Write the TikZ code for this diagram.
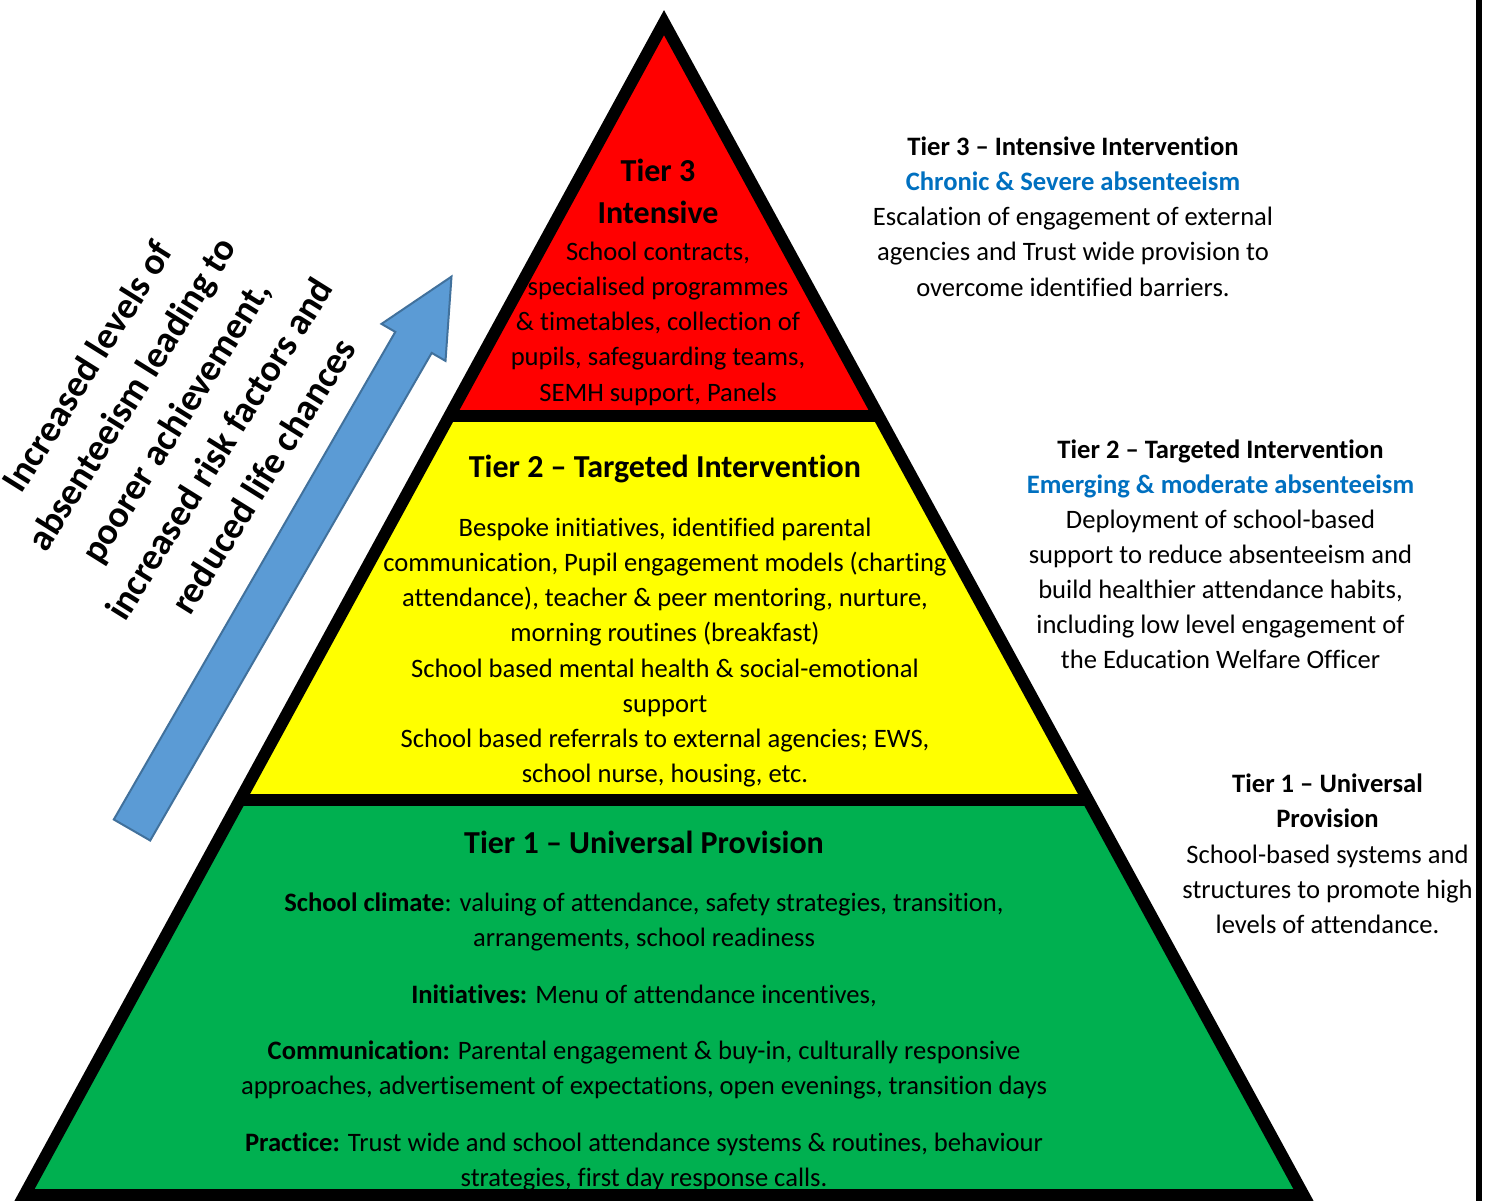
\documentclass[tikz,border=0pt]{standalone}
\usepackage{fontspec}
\setmainfont{Carlito}[Ligatures=NoCommon]
\definecolor{tred}{HTML}{FF0000}
\definecolor{tyellow}{HTML}{FFFF00}
\definecolor{tgreen}{HTML}{00B050}
\definecolor{tblue}{HTML}{0070C0}
\definecolor{afill}{HTML}{5B9BD5}
\definecolor{aline}{HTML}{41719C}
\begin{document}
\begin{tikzpicture}[x=1pt,y=-1pt,
  body/.style={font=\fontsize{26.6}{32}\selectfont, inner sep=0pt, anchor=base},
  hd/.style={font=\fontsize{26.6}{32}\selectfont\bfseries, inner sep=0pt, anchor=base},
  blu/.style={hd, text=tblue},
  ttl/.style={font=\fontsize{32}{38}\selectfont\bfseries, inner sep=0pt, anchor=base},
  rot/.style={font=\fontsize{37.5}{45}\selectfont\bfseries, inner sep=0pt, anchor=base, rotate=58},
  band/.style={line width=12pt, draw=black},
  ]
\useasboundingbox (0,0) rectangle (1490,1201);
\fill[white] (0,0) rectangle (1490,1201);

% pyramid geometry
\coordinate (A) at (664,22.6);
\coordinate (BL) at (24.5,1195);
\coordinate (BR) at (1303.5,1195);
\coordinate (L1) at (449.7,415.5);
\coordinate (R1) at (878.3,415.5);
\coordinate (L2) at (239.9,800);
\coordinate (R2) at (1088.1,800);

\fill[tred] (A) -- (L1) -- (R1) -- cycle;
\fill[tyellow] (L1) -- (L2) -- (R2) -- (R1) -- cycle;
\fill[tgreen] (L2) -- (BL) -- (BR) -- (R2) -- cycle;
\draw[band] (L1) -- (R1);
\draw[band] (L2) -- (R2);
\draw[band, line join=miter] (A) -- (BL) -- (BR) -- cycle;

% right border line
\draw[line width=6pt] (1479,0) -- (1479,1201);

% blue arrow
\draw[fill=afill, draw=aline, line width=2pt, line join=miter]
  (113.8,819.5) -- (395.3,331.9) -- (381.5,323.9) -- (451.5,276.6)
  -- (445.5,360.9) -- (431.7,352.9) -- (150.2,840.5) -- cycle;

% rotated text
\begin{scope}[shift={(186,428)}, rotate=58]
\foreach \tl [count=\i from -2] in {{Increased levels of},{absenteeism leading to},{poorer achievement,},{increased risk factors and},{reduced life chances}}
  \node[rot] (r\i) at (0,\i*51.8) {\tl};
\end{scope}

\begin{scope}[shift={(0,1.5)}]
% Tier 3 inside pyramid
\node[ttl] (p3a) at (658,180) {Tier 3};
\node[ttl] (p3b) at (658,222) {Intensive};
\foreach \yy/\tl [count=\i] in {259/{School contracts,},294/{specialised programmes},329/{\& timetables, collection of},364/{pupils, safeguarding teams,},400/{SEMH support, Panels}}
  \node[body] (p3-\i) at (658,\yy) {\tl};

% Tier 2 inside pyramid
\node[ttl] (p2t) at (665,476) {Tier 2 -- Targeted Intervention};
\foreach \yy/\tl [count=\i] in {535/{Bespoke initiatives, identified parental},570/{communication, Pupil engagement models (charting},605/{attendance), teacher \& peer mentoring, nurture,},640/{morning routines (breakfast)},676/{School based mental health \& social-emotional},711/{support},746/{School based referrals to external agencies; EWS,},781/{school nurse, housing, etc.}}
  \node[body] (p2-\i) at (665,\yy) {\tl};

% Tier 1 inside pyramid
\node[ttl] (p1t) at (644,852) {Tier 1 -- Universal Provision};
\foreach \yy/\tl [count=\i] in {910/{\textbf{School climate}: valuing of attendance, safety strategies, transition,},945/{arrangements, school readiness},1002/{\textbf{Initiatives:} Menu of attendance incentives,},1058/{\textbf{Communication:} Parental engagement \& buy-in, culturally responsive},1093/{approaches, advertisement of expectations, open evenings, transition days},1150/{\textbf{Practice:} Trust wide and school attendance systems \& routines, behaviour},1185/{strategies, first day response calls.}}
  \node[body] (p1-\i) at (644,\yy) {\tl};

% Right side: Tier 3
\node[hd] (s3t) at (1073,154) {Tier 3 -- Intensive Intervention};
\node[blu] (s3b) at (1073,189) {Chronic \& Severe absenteeism};
\foreach \yy/\tl [count=\i] in {224/{Escalation of engagement of external},259/{agencies and Trust wide provision to},295/{overcome identified barriers.}}
  \node[body] (s3-\i) at (1073,\yy) {\tl};

% Right side: Tier 2
\node[hd] (s2t) at (1220.5,457) {Tier 2 -- Targeted Intervention};
\node[blu] (s2b) at (1220.5,492) {Emerging \& moderate absenteeism};
\foreach \yy/\tl [count=\i] in {527/{Deployment of school-based},562/{support to reduce absenteeism and},597/{build healthier attendance habits,},632/{including low level engagement of},667/{the Education Welfare Officer}}
  \node[body] (s2-\i) at (1220.5,\yy) {\tl};

% Right side: Tier 1
\node[hd] (s1t) at (1327.5,791) {Tier 1 -- Universal};
\node[hd] (s1u) at (1327.5,826) {Provision};
\foreach \yy/\tl [count=\i] in {862/{School-based systems and},897/{structures to promote high},932/{levels of attendance.}}
  \node[body] (s1-\i) at (1327.5,\yy) {\tl};
\end{scope}
\end{tikzpicture}
\end{document}
